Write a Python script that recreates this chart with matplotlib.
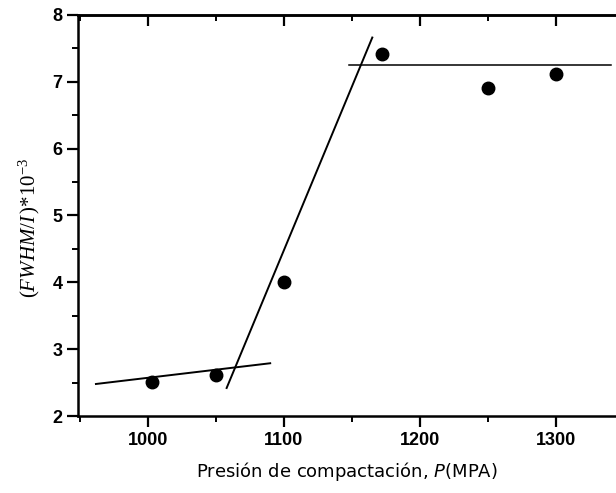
import matplotlib.pyplot as plt
import numpy as np
from matplotlib.ticker import MultipleLocator

plt.rcParams["mathtext.fontset"] = "custom"
plt.rcParams["mathtext.rm"] = "Liberation Serif"
plt.rcParams["mathtext.it"] = "Liberation Serif:italic"
plt.rcParams["mathtext.sf"] = "DejaVu Sans:italic"

# measured points
pressure = [1003, 1050, 1100, 1172, 1250, 1300]
fwhm = [2.51, 2.61, 4.0, 7.42, 6.91, 7.12]

# fitted line segments (endpoints)
low_x = [962, 1090]
low_y = [2.48, 2.79]
steep_x = [1058, 1165]
steep_y = [2.42, 7.66]
high_x = [1148, 1340]
high_y = [7.25, 7.25]

fig = plt.figure(figsize=(6.16, 4.93), dpi=100)
ax = fig.add_axes([0.127, 0.156, 0.873, 0.814])

ax.plot(low_x, low_y, color="black", linewidth=1.4)
ax.plot(steep_x, steep_y, color="black", linewidth=1.4)
ax.plot(high_x, high_y, color="black", linewidth=1.1)
ax.plot(pressure, fwhm, "o", color="black", markersize=9)

ax.set_xlim(949, 1344)
ax.set_ylim(2, 8)
ax.xaxis.set_major_locator(MultipleLocator(100))
ax.xaxis.set_minor_locator(MultipleLocator(50))
ax.yaxis.set_major_locator(MultipleLocator(1))
ax.yaxis.set_minor_locator(MultipleLocator(0.5))

for side in ["left", "bottom", "top"]:
    ax.spines[side].set_linewidth(1.8)
ax.spines["right"].set_visible(False)

ax.tick_params(which="major", direction="out", length=8, width=1.6, labelsize=13)
ax.tick_params(which="minor", direction="out", length=4, width=1.4)
for lab in ax.get_xticklabels() + ax.get_yticklabels():
    lab.set_family("Liberation Sans")
    lab.set_fontweight("bold")

top = ax.secondary_xaxis("top")
top.xaxis.set_major_locator(MultipleLocator(100))
top.xaxis.set_minor_locator(MultipleLocator(50))
top.tick_params(which="major", direction="in", length=8, width=1.6, labeltop=False)
top.tick_params(which="minor", direction="in", length=4, width=1.4)
top.spines["top"].set_linewidth(1.8)

ax.set_xlabel("Presión de compactación, $\\mathsf{P}$(MPA)", fontsize=13,
              family="DejaVu Sans", labelpad=8)
ax.set_ylabel("$(\\mathit{FWHM/I}\\,)$*10$^{-3}$", fontsize=15,
              family="Liberation Serif")
ax.yaxis.set_label_coords(-0.068, 0.47)

fig.savefig("out.png", dpi=100)
